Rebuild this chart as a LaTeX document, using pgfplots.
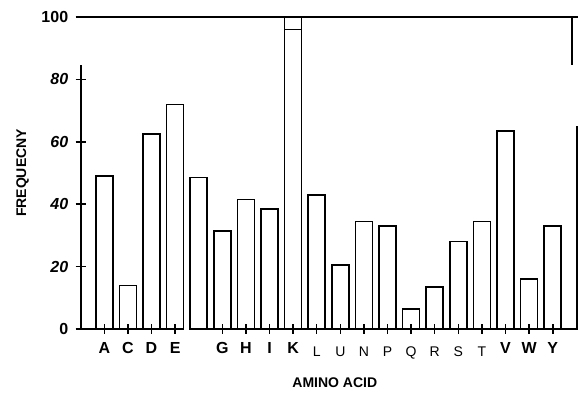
\documentclass[border=0pt]{standalone}
\usepackage{fontspec}
\setmainfont{Liberation Sans}
\usepackage{pgfplots}
\pgfplotsset{compat=1.18}
\newcommand\lt[1]{\mdseries\fontsize{14}{14}\selectfont\raisebox{-4pt}[\height]{#1}}
\begin{document}
\begin{tikzpicture}
\begin{axis}[
  at={(80.7pt,64pt)}, anchor=south west,
  scale only axis, width=497.3pt, height=312pt,
  xmin=-1, xmax=20.07, ymin=0, ymax=100,
  clip=false,
  axis line style={draw=none},
  ybar, bar width=0.72,
  xtick={0,1,2,3,5,6,7,8,9,10,11,12,13,14,15,16,17,18,19},
  xticklabels={A,C,D,E,G,H,I,K,\lt{L},\lt{U},\lt{N},\lt{P},\lt{Q},\lt{R},\lt{S},\lt{T},V,W,Y},
  ytick={0,20,40,60,80,100},
  yticklabels={0,\textit{20},\textit{40},\textit{60},\textit{80},100},
  xtick pos=bottom, ytick pos=left,
  tick align=center, major tick length=10pt,
  every tick/.style={black, line width=1.5pt},
  axis on top,
  x tick label style={font=\bfseries\fontsize{16}{16}\selectfont, yshift=-5pt},
  y tick label style={font=\bfseries\fontsize{16}{16}\selectfont, xshift=-4pt},
  xlabel={AMINO ACID},
  ylabel={FREQUECNY},
  xlabel style={at={(axis description cs:0.511,-0.173)}, anchor=center, font=\bfseries\fontsize{14}{14}\selectfont},
  ylabel style={at={(axis description cs:-0.117,0.5)}, anchor=center, font=\bfseries\fontsize{14}{14}\selectfont},
]
\addplot[draw=black, fill=white, line width=1.6pt] coordinates {
(0,49) (1,14) (2,62.5) (3,72) (4,48.5) (5,31.5) (6,41.5) (7,38.5) (8,96) (9,43)
(10,20.5) (11,34.5) (12,33) (13,6.5) (14,13.5) (15,28) (16,34.5) (17,63.5) (18,16) (19,33)};
\draw[line width=1.6pt] (axis cs:-1,0) -- (axis cs:-1,84.6);
\draw[line width=1.6pt] (axis cs:-1.05,0) -- (axis cs:3.1,0);
\draw[line width=1.6pt] (axis cs:4.05,0) -- (axis cs:20.07,0);
\draw[line width=1.8pt] (axis cs:-1.16,100) -- (axis cs:20.07,100);
\draw[line width=1.5pt] (axis cs:19.82,100) -- (axis cs:19.82,84.6);
\draw[line width=1.5pt] (axis cs:20.02,65) -- (axis cs:20.02,0);
\draw[line width=1.5pt] (axis cs:7.64,96) -- (axis cs:7.64,100);
\draw[line width=1.5pt] (axis cs:8.36,96) -- (axis cs:8.36,100);
\end{axis}
\pgfresetboundingbox
\path (0,0) rectangle (578pt,393pt);
\end{tikzpicture}
\end{document}
